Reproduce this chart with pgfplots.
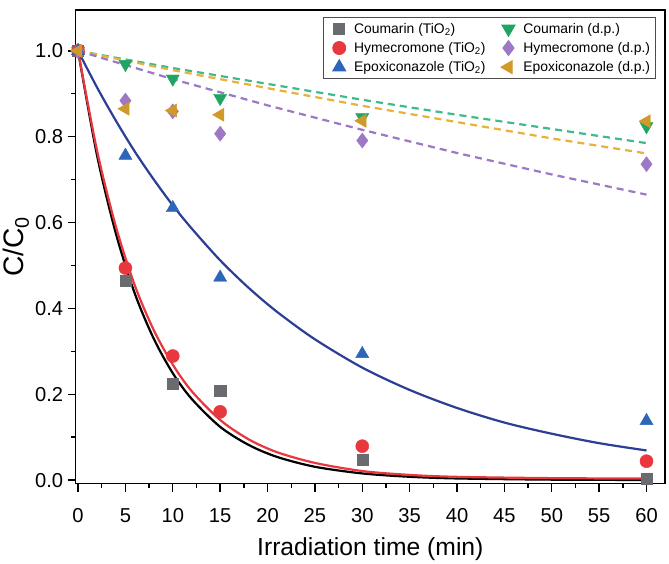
\documentclass[border=0pt]{standalone}
\usepackage{pgfplots}
\pgfplotsset{compat=1.18}
\usepackage{fontspec}
\setmainfont{Liberation Sans}

\definecolor{cgray}{HTML}{6A6B6E}
\definecolor{cred}{HTML}{E8383D}
\definecolor{cblue}{HTML}{2D66B8}
\definecolor{cnavy}{HTML}{2C3F95}
\definecolor{cgreen}{HTML}{1FA463}
\definecolor{cgreenl}{HTML}{3DBB8F}
\definecolor{cpurple}{HTML}{9E78C4}
\definecolor{cgold}{HTML}{D09A2A}
\definecolor{cgoldl}{HTML}{E9B13A}

\begin{document}
\begin{tikzpicture}
\begin{axis}[
  scale only axis,
  width=585pt, height=470pt,
  xmin=-0.25, xmax=61.95,
  ymin=-0.008, ymax=1.095,
  axis line style={line width=1.6pt},
  xtick={0,5,...,60},
  ytick={0,0.2,...,1.0},
  minor xtick={2.5,7.5,...,57.5},
  minor ytick={0.1,0.3,...,0.9},
  xtick pos=bottom, ytick pos=left,
  tick align=outside,
  major tick length=8pt, minor tick length=4.5pt,
  every tick/.style={line width=1.4pt, black},
  /pgf/number format/assume math mode=true,
  ticklabel style={font=\fontsize{20}{24}\selectfont},
  yticklabel style={xshift=-1pt, /pgf/number format/.cd, fixed, fixed zerofill, precision=1},
  xticklabel style={yshift=-13pt},
  xlabel={Irradiation time (min)},
  ylabel={C/C\textsubscript{0}},
  xlabel style={font=\fontsize{24.5}{29}\selectfont, yshift=-8pt},
  ylabel style={font=\fontsize{28}{32}\selectfont, yshift=-1pt},
  legend style={
    at={(rel axis cs:0.984,0.985)}, anchor=north east,
    font=\fontsize{13.8}{16.5}\selectfont,
    draw=black!70, line width=0.8pt,
    inner xsep=3pt, inner ysep=3.5pt,
    row sep=3.5pt,
    /tikz/every even column/.append style={column sep=8pt},
  },
  legend columns=2,
  legend cell align=left,
  legend image code/.code={
    \path[draw=none, fill=none] (0,0) -- (0.9cm,0);
    \draw[#1] plot coordinates {(0.45cm,0cm)};},
  clip=false,
]

% first-order fits (TiO2)
\addplot[black, line width=2.2pt, smooth, forget plot] coordinates {
 (0,1) (2,0.757) (4,0.574) (6,0.434) (8,0.329) (10,0.249) (12,0.189)
 (15,0.124) (18,0.082) (21,0.054) (25,0.031) (30,0.0155) (35,0.0077)
 (40,0.0038) (50,0.001) (60,0.0003)};
\addplot[cred, line width=2.2pt, smooth, forget plot] coordinates {
 (0,1) (2,0.768) (4,0.590) (6,0.453) (8,0.349) (10,0.269) (12,0.207)
 (15,0.140) (18,0.095) (21,0.065) (25,0.040) (30,0.021) (35,0.012)
 (40,0.0075) (50,0.0045) (60,0.0035)};
\addplot[cnavy, line width=2.2pt, smooth, forget plot] coordinates {
 (0,1) (2,0.915) (4,0.837) (6,0.765) (8,0.700) (10,0.640) (12,0.586)
 (15,0.512) (18,0.448) (21,0.392) (25,0.328) (30,0.262) (35,0.210)
 (40,0.168) (45,0.134) (50,0.108) (55,0.086) (60,0.069)};

% fits without catalyst (direct photolysis)
\addplot[cgreenl, line width=2.2pt, dash pattern=on 7pt off 5pt, forget plot] coordinates {
 (0,1) (10,0.960) (20,0.923) (30,0.886) (40,0.851) (50,0.818) (60,0.785)};
\addplot[cgoldl, line width=2.2pt, dash pattern=on 7pt off 5pt, forget plot] coordinates {
 (0,1) (10,0.955) (20,0.913) (30,0.872) (40,0.834) (50,0.796) (60,0.761)};
\addplot[cpurple, line width=2.2pt, dash pattern=on 7pt off 5pt, forget plot] coordinates {
 (0,1) (10,0.934) (20,0.873) (30,0.816) (40,0.762) (50,0.712) (60,0.665)};

% measured points
\addplot[only marks, color=cgray, mark=square*, mark size=5.5pt] coordinates {
 (0,1.0) (5,0.465) (10,0.225) (15,0.208) (30,0.048) (60,0.003)};
\addlegendentry{Coumarin (TiO\textsubscript{2})}
\addplot[only marks, color=cgreen, mark=triangle*, mark options={rotate=180}, mark size=7.5pt] coordinates {
 (0,1.0) (5,0.969) (10,0.935) (15,0.890) (30,0.845) (60,0.824)};
\addlegendentry{Coumarin (d.p.)}
\addplot[only marks, color=cred, mark=*, mark size=6.5pt] coordinates {
 (0,1.0) (5,0.494) (10,0.289) (15,0.159) (30,0.079) (60,0.044)};
\addlegendentry{Hymecromone (TiO\textsubscript{2})}
\addplot[only marks, color=cpurple, mark=diamond*, mark size=7.5pt] coordinates {
 (0,1.0) (5,0.884) (10,0.859) (15,0.807) (30,0.791) (60,0.736)};
\addlegendentry{Hymecromone (d.p.)}
\addplot[only marks, color=cblue, mark=triangle*, mark size=7.5pt] coordinates {
 (0,1.0) (5,0.756) (10,0.634) (15,0.472) (30,0.294) (60,0.138)};
\addlegendentry{Epoxiconazole (TiO\textsubscript{2})}
\addplot[only marks, color=cgold, mark=triangle*, mark options={rotate=90}, mark size=7.5pt] coordinates {
 (0,1.0) (5,0.865) (10,0.861) (15,0.851) (30,0.837) (60,0.836)};
\addlegendentry{Epoxiconazole (d.p.)}

\end{axis}
% a little room above and right of the frame
\path ([yshift=10pt]current axis.north) ([xshift=4pt]current axis.east);
\end{tikzpicture}
\end{document}
